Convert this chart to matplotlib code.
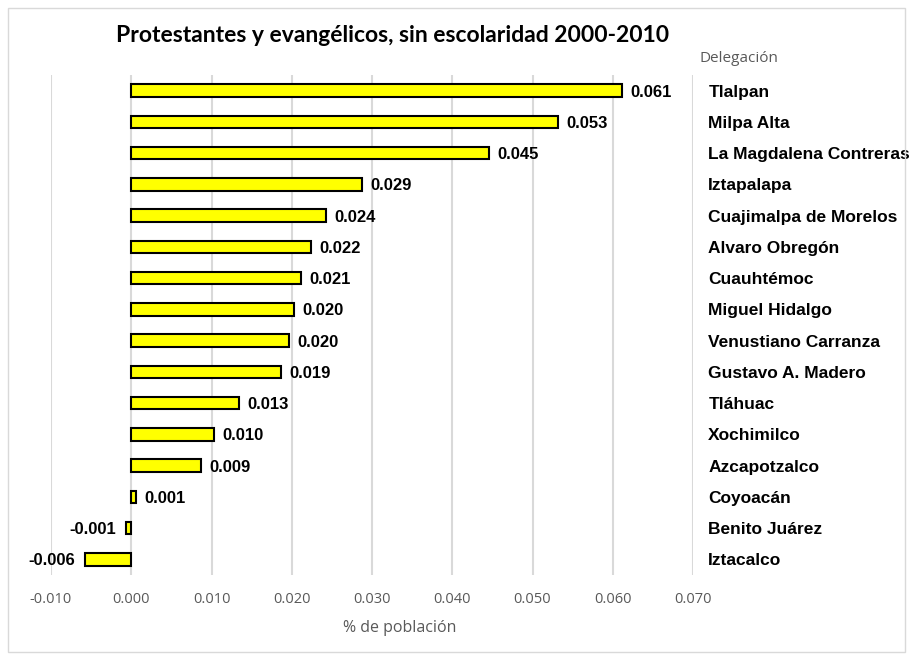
import matplotlib
matplotlib.use("Agg")
from matplotlib import pyplot as plt
from matplotlib.patches import Rectangle

delegaciones = [
    "Tlalpan", "Milpa Alta", "La Magdalena Contreras", "Iztapalapa",
    "Cuajimalpa de Morelos", "Alvaro Obregón", "Cuauhtémoc", "Miguel Hidalgo",
    "Venustiano Carranza", "Gustavo A. Madero", "Tláhuac", "Xochimilco",
    "Azcapotzalco", "Coyoacán", "Benito Juárez", "Iztacalco",
]
valores = [
    0.0611, 0.0532, 0.0446, 0.0288, 0.0243, 0.0224, 0.0212, 0.0203,
    0.0197, 0.0187, 0.0134, 0.0103, 0.0087, 0.0006, -0.0007, -0.0058,
]
xticks = [-0.010, 0.000, 0.010, 0.020, 0.030, 0.040, 0.050, 0.060, 0.070]

fig = plt.figure(figsize=(9.13, 6.56), dpi=100)
ax = fig.add_axes([51 / 913, 1 - 575 / 656, (693 - 51) / 913, 500 / 656])

pos = list(range(len(delegaciones)))
ax.barh(pos, valores, height=0.4, color="#ffff00", edgecolor="black", linewidth=1.5, zorder=3)

for y, v in zip(pos, valores):
    if v >= 0:
        ax.annotate(f"{v:.3f}", (v, y), xytext=(6, -1), textcoords="offset points",
                    ha="left", va="center", fontsize=12, fontweight="bold",
                    family="Liberation Sans")
    else:
        ax.annotate(f"{v:.3f}", (v, y), xytext=(-7, -1), textcoords="offset points",
                    ha="right", va="center", fontsize=12, fontweight="bold",
                    family="Liberation Sans")

ax.set_xlim(-0.010, 0.070)
ax.set_ylim(len(delegaciones) - 0.5, -0.5)
ax.set_xticks(xticks)
ax.set_xticklabels([f"{t:.3f}" for t in xticks], family="Open Sans", fontsize=10.5, color="#595959")
ax.grid(axis="x", color="#d9d9d9", linewidth=1.5, zorder=0)
ax.set_axisbelow(True)
for s in ax.spines.values():
    s.set_visible(False)

ax.yaxis.tick_right()
ax.set_yticks(pos)
ax.set_yticklabels(delegaciones, family="Liberation Sans", fontsize=12.5, fontweight="bold")
ax.tick_params(axis="y", length=0, pad=11)
ax.tick_params(axis="x", length=0, pad=12)

fig.text(400 / 913, 1 - 628 / 656, "% de población", ha="center", va="center",
         family="Open Sans", fontsize=11.5, color="#595959")
fig.text(393 / 913, 1 - 36 / 656, "Protestantes y evangélicos, sin escolaridad 2000-2010",
         ha="center", va="center", family="Lato", fontweight="bold", fontsize=16.5)
fig.text(699 / 913, 1 - 58 / 656, "Delegación", ha="left", va="center",
         family="Open Sans", fontsize=11, color="#595959")

fig.patches.append(Rectangle((8 / 913, 4 / 656), 897 / 913, 644 / 656, transform=fig.transFigure,
                             fill=False, edgecolor="#d9d9d9", linewidth=1))

fig.savefig("out.png", dpi=100, facecolor="white")
